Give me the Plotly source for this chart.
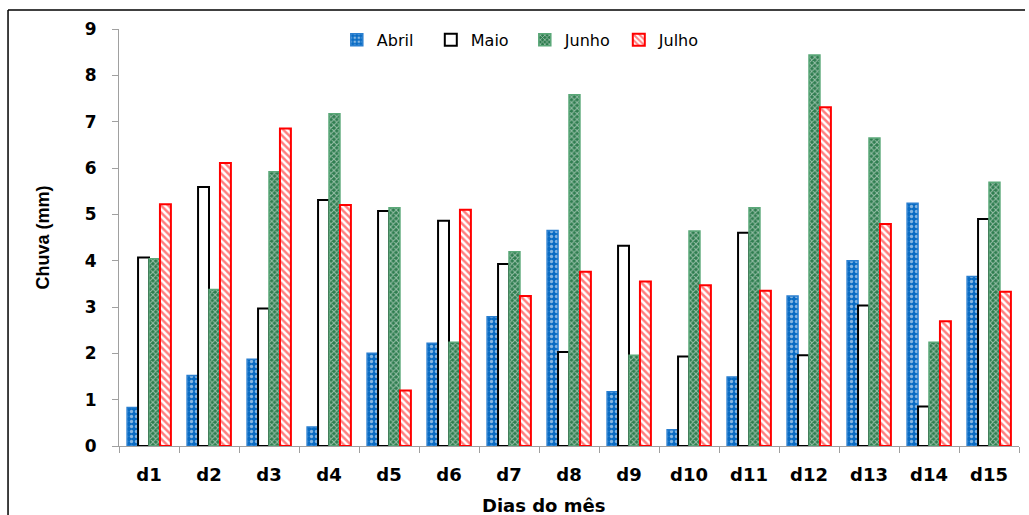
import plotly.graph_objects as go

dias = [f"d{i}" for i in range(1, 16)]
abril = [0.83, 1.52, 1.87, 0.41, 2.00, 2.22, 2.79, 4.65, 1.17, 0.35, 1.49, 3.24, 4.00, 5.24, 3.66]
maio = [4.07, 5.59, 2.97, 5.31, 5.07, 4.86, 3.93, 2.03, 4.32, 1.93, 4.60, 1.96, 3.03, 0.85, 4.90]
junho = [4.04, 3.38, 5.92, 7.17, 5.14, 2.24, 4.19, 7.58, 1.96, 4.64, 5.14, 8.44, 6.65, 2.24, 5.69]
julho = [5.22, 6.11, 6.85, 5.20, 1.20, 5.10, 3.24, 3.76, 3.55, 3.47, 3.35, 7.31, 4.79, 2.69, 3.33]
y_ticks = list(range(0, 10))

fig = go.Figure()
fig.add_trace(go.Bar(
    name="Abril", x=dias, y=abril,
    marker=dict(color="#0a6cc4", line=dict(color="#2a7fd0", width=1.5),
                pattern=dict(shape=".", fgcolor="white", bgcolor="#0a6cc4", size=5, solidity=0.35)),
))
fig.add_trace(go.Bar(
    name="Maio", x=dias, y=maio,
    marker=dict(color="white", line=dict(color="black", width=2)),
))
fig.add_trace(go.Bar(
    name="Junho", x=dias, y=junho,
    marker=dict(color="#2e7d4f", line=dict(color="#5aa878", width=1.5),
                pattern=dict(shape="x", fgcolor="white", bgcolor="#2e7d4f", size=4, solidity=0.45)),
))
fig.add_trace(go.Bar(
    name="Julho", x=dias, y=julho,
    marker=dict(color="white", line=dict(color="#ff0000", width=2),
                pattern=dict(shape="\\", fgcolor="#ff0000", bgcolor="white", size=5, solidity=0.5)),
))

bold_font = "DejaVu Sans, Verdana, sans-serif"

fig.update_layout(
    width=1029, height=515,
    margin=dict(l=119, r=10, t=29, b=69),
    paper_bgcolor="white", plot_bgcolor="white",
    barmode="group", bargap=0.27, bargroupgap=0,
    showlegend=True,
    legend=dict(orientation="h", x=0.242, y=0.974, xanchor="left", yanchor="middle",
                font=dict(family=bold_font, size=16, color="black"),
                bgcolor="rgba(0,0,0,0)", itemwidth=30,
                entrywidth=49, entrywidthmode="pixels"),
    xaxis=dict(
        showgrid=False, showline=True, linecolor="#a0a0a0", linewidth=1,
        ticks="outside", ticklen=6, tickcolor="#a0a0a0", tickson="boundaries",
        ticklabelstandoff=12,
        tickfont=dict(family=bold_font, size=18, color="black", weight="bold"),
    ),
    yaxis=dict(
        range=[0, 9], tickvals=y_ticks, showgrid=False, zeroline=False,
        showline=True, linecolor="#a0a0a0", linewidth=1,
        ticks="outside", ticklen=6, tickcolor="#a0a0a0",
        ticklabelstandoff=12,
        tickfont=dict(family=bold_font, size=17, color="black", weight="bold"),
    ),
    annotations=[
        dict(text="<b>Dias do mês</b>", xref="paper", yref="paper",
             x=0.472, y=-0.1415, xanchor="center", yanchor="middle", showarrow=False,
             font=dict(family=bold_font, size=18, color="black")),
        dict(text="<b>Chuva (mm)</b>", xref="paper", yref="paper", textangle=-90,
             x=-0.0855, y=0.5, xanchor="center", yanchor="middle", showarrow=False,
             font=dict(family="Liberation Sans, Arial, sans-serif", size=18, color="black")),
    ],
    shapes=[
        dict(type="line", xref="paper", yref="paper",
             x0=-0.1233, x1=-0.1233, y0=1.0456, y1=-0.2, line=dict(color="black", width=1.5)),
        dict(type="line", xref="paper", yref="paper",
             x0=-0.1233, x1=1.0067, y0=1.0456, y1=1.0456, line=dict(color="black", width=1.5)),
    ],
)

fig.write_html("out.html")
